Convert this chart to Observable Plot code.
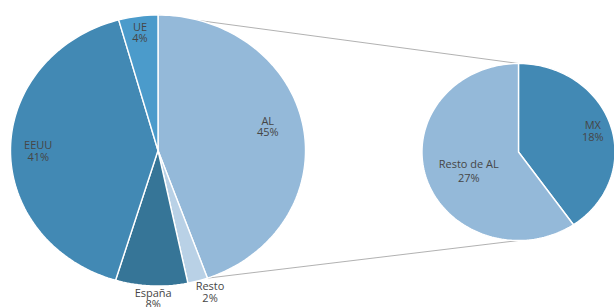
<!DOCTYPE html>
<html>
<head>
<meta charset="utf-8">
<script src="https://cdn.jsdelivr.net/npm/d3@7"></script>
<script src="https://cdn.jsdelivr.net/npm/@observablehq/plot@0.6"></script>
<style>
  html, body { margin: 0; padding: 0; background: #fff; overflow: hidden; width: 614px; height: 307px; }
  #chart svg { display: block; }
</style>
</head>
<body>
<div id="chart"></div>
<script>
// ---- Data (shares in %; labels show rounded values) ----
const bigNames = ["AL", "Resto", "España", "EEUU", "UE"];
const bigValues = [44.6, 2.2, 7.9, 41.1, 4.3];
const smallNames = ["MX", "Resto de AL"];
const smallValues = [18.0, 26.6];

// ---- Styles ----
const bigColors = ["#94b9d9", "#b9d1e6", "#367597", "#4289b4", "#4b9bcb"];
const smallColors = ["#4289b4", "#94b9d9"];

// ---- Layout (pixel space of the 614x307 canvas) ----
const W = 614, H = 307;
const BIG = {cx: 157.5, cy: 150, rx: 147.5, ry: 135.5};
const SMALL = {cx: 518, cy: 151.5, rx: 96.5, ry: 88.5};
// label polar placement: [radius fraction, angle in degrees clockwise from top]
const bigLabelPolar = [[0.764, 76.9], [1.106, 161.4], [1.096, 181.7], [0.812, 269.5], [0.879, -8]];
const smallLabelPolar = [[0.804, 73.2], [0.556, 248]];

const rad = Math.PI / 180;
function pt(p, f, tDeg) {
  const t = tDeg * rad;
  return [p.cx + f * p.rx * Math.sin(t), p.cy - f * p.ry * Math.cos(t)];
}

function slices(pie, names, values, prefix) {
  const total = d3.sum(values);
  const out = [];
  let acc = 0;
  names.forEach((n, i) => {
    const a0 = acc / total * 360;
    acc += values[i];
    const a1 = acc / total * 360;
    const key = prefix + n;
    const [cx, cy] = pt(pie, 0, 0);
    out.push({key, x: cx, y: cy});
    const steps = Math.max(4, Math.ceil((a1 - a0) / 1.5));
    for (let s = 0; s <= steps; s++) {
      const [x, y] = pt(pie, 1, a0 + (a1 - a0) * s / steps);
      out.push({key, x, y});
    }
  });
  return out;
}

const bigSlices = slices(BIG, bigNames, bigValues, "b:");
const smallSlices = slices(SMALL, smallNames, smallValues, "s:");

const bigLabels = bigNames.map((n, i) => {
  const [x, y] = pt(BIG, bigLabelPolar[i][0], bigLabelPolar[i][1]);
  return {text: n + "\n" + Math.round(bigValues[i]) + "%", x, y};
});
const smallLabels = smallNames.map((n, i) => {
  const [x, y] = pt(SMALL, smallLabelPolar[i][0], smallLabelPolar[i][1]);
  return {text: n + "\n" + Math.round(smallValues[i]) + "%", x, y};
});

// connectors: top of AL to top of small pie; AL end to bottom of small pie
const alEnd = bigValues[0] / d3.sum(bigValues) * 360;
const [tx1, ty1] = pt(BIG, 1, 0);
const [tx2, ty2] = pt(SMALL, 1, 0);
const [bx1, by1] = pt(BIG, 1, alEnd);
const [bx2, by2] = pt(SMALL, 1, 180);
const connectors = [
  {x1: tx1, y1: ty1, x2: tx2, y2: ty2},
  {x1: bx1, y1: by1, x2: bx2, y2: by2}
];

const colorDomain = [...bigNames.map(n => "b:" + n), ...smallNames.map(n => "s:" + n)];
const colorRange = [...bigColors, ...smallColors];

const textStyle = {x: "x", y: "y", text: "text", fill: "#464646", fontSize: 11, fontFamily: "Open Sans", lineAnchor: "middle"};

const chart = Plot.plot({
  width: W,
  height: H,
  margin: 0,
  x: {domain: [0, W], range: [0, W], axis: null},
  y: {domain: [0, H], range: [0, H], axis: null},
  color: {type: "ordinal", domain: colorDomain, range: colorRange},
  style: {background: "#fff", overflow: "hidden"},
  marks: [
    Plot.link(connectors, {x1: "x1", y1: "y1", x2: "x2", y2: "y2", stroke: "#a8a8a8", strokeWidth: 0.9}),
    Plot.line(bigSlices, {x: "x", y: "y", z: "key", fill: "key", stroke: "#fff", strokeWidth: 1.4, curve: "linear-closed", strokeLinejoin: "round"}),
    Plot.line(smallSlices, {x: "x", y: "y", z: "key", fill: "key", stroke: "#fff", strokeWidth: 1.4, curve: "linear-closed", strokeLinejoin: "round"}),
    Plot.text(bigLabels, {...textStyle, lineHeight: 1.04}),
    Plot.text(smallLabels.slice(0, 1), {...textStyle, lineHeight: 1.04}),
    Plot.text(smallLabels.slice(1), {...textStyle, lineHeight: 1.25})
  ]
});
document.getElementById("chart").appendChild(chart);
</script>
</body>
</html>
